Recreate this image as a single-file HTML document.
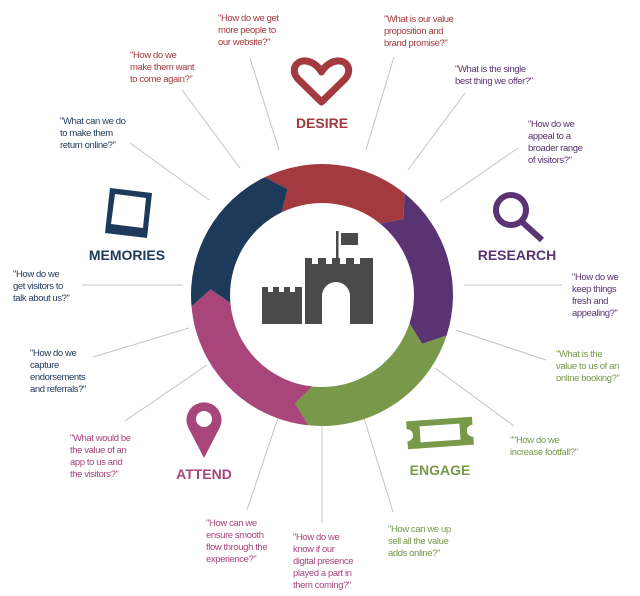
<!DOCTYPE html>
<html><head><meta charset="utf-8">
<style>
html,body{margin:0;padding:0;background:#fff;}
svg{display:block;}
text{font-family:"Liberation Sans",sans-serif;}
.q{font-size:9.5px;letter-spacing:-0.4px;}
.h{font-size:14px;font-weight:bold;}
</style></head>
<body>
<svg id="s" width="640" height="596" viewBox="0 0 640 596" xmlns="http://www.w3.org/2000/svg">
<g stroke="#c4c4c4" stroke-width="1">
<line x1="250" y1="58" x2="279" y2="150"/>
<line x1="182" y1="90" x2="240" y2="168"/>
<line x1="130" y1="143" x2="209" y2="200"/>
<line x1="82" y1="285" x2="183" y2="285"/>
<line x1="93" y1="357" x2="189" y2="328"/>
<line x1="125" y1="421" x2="207" y2="365"/>
<line x1="247" y1="510" x2="278" y2="418"/>
<line x1="322" y1="523" x2="322" y2="424"/>
<line x1="393" y1="512" x2="364" y2="418"/>
<line x1="514" y1="426" x2="435" y2="368"/>
<line x1="546" y1="360" x2="456" y2="330"/>
<line x1="562" y1="285" x2="464" y2="285"/>
<line x1="518" y1="148" x2="440" y2="202"/>
<line x1="465" y1="93" x2="408" y2="170"/>
<line x1="394" y1="57" x2="366" y2="150"/>
</g>
<g id="ring"></g>
<!-- castle -->
<g fill="#4a4a4a">
<path d="M262,324 V287 H268 V292 H273 V287 H279 V292 H284 V287 H290 V292 H295 V287 H302 V324 Z"/>
<path d="M305,324 V258 H312 V264 H318 V258 H326 V264 H332 V258 H340 V264 H346 V258 H354 V264 H360 V258 H373 V324 H350 V296 A14,14 0 0 0 322,296 V324 Z"/>
<rect x="336" y="231" width="2.5" height="28"/>
<rect x="341" y="233" width="17" height="12"/>
</g>
<!-- heart -->
<path d="M321.5,102 L298,79 C290,70 296,60 306,61 C313,62 318,66 321.5,72 C325,66 330,62 337,61 C347,60 353,70 345,79 Z" fill="none" stroke="#a33a3f" stroke-width="7" stroke-linejoin="round"/>
<text class="h" x="322" y="128" text-anchor="middle" fill="#a33a3f">DESIRE</text>
<!-- magnifier -->
<circle cx="511" cy="210" r="15" fill="none" stroke="#5a3472" stroke-width="6"/>
<line x1="521" y1="221" x2="542" y2="240" stroke="#5a3472" stroke-width="6"/>
<text class="h" x="517" y="260" text-anchor="middle" fill="#5a3472">RESEARCH</text>
<!-- ticket -->
<g transform="rotate(-4 440 433)" fill="#78994a">
<path fill-rule="evenodd" d="M407,419 H473 V427 A6,6 0 0 0 473,439 V447 H407 V439 A6,6 0 0 0 407,427 Z M420,425 V441 H460 V425 Z"/>
</g>
<text class="h" x="440" y="475" text-anchor="middle" fill="#78994a">ENGAGE</text>
<!-- pin -->
<path fill-rule="evenodd" d="M204,458 L188.5,428 A17.5,17.5 0 1 1 219.5,428 Z M196,419 a8,8 0 1 0 16,0 a8,8 0 1 0 -16,0 Z" fill="#a8457a"/>
<text class="h" x="204" y="479" text-anchor="middle" fill="#a8457a">ATTEND</text>
<!-- frame -->
<path fill-rule="evenodd" d="M110,188 L152,193 L147,238 L105,233 Z M115,194 L146,198 L143,228 L111,224 Z" fill="#1e3a5a"/>
<text class="h" x="127" y="260" text-anchor="middle" fill="#1e3a5a">MEMORIES</text>

<g class="q">
<text fill="#a33a3f"><tspan x="218" y="21">"How do we get</tspan><tspan x="218" y="33">more people to</tspan><tspan x="218" y="45">our website?"</tspan></text>
<text fill="#a33a3f"><tspan x="130" y="58">"How do we</tspan><tspan x="130" y="70">make them want</tspan><tspan x="130" y="82">to come again?"</tspan></text>
<text fill="#1e3a5a"><tspan x="60" y="124">"What can we do</tspan><tspan x="60" y="136">to make them</tspan><tspan x="60" y="148">return online?"</tspan></text>
<text fill="#1e3a5a"><tspan x="13" y="277">"How do we</tspan><tspan x="13" y="289">get visitors to</tspan><tspan x="13" y="301">talk about us?"</tspan></text>
<text fill="#1e3a5a"><tspan x="30" y="356">"How do we</tspan><tspan x="30" y="368">capture</tspan><tspan x="30" y="380">endorsements</tspan><tspan x="30" y="392">and referrals?"</tspan></text>
<text fill="#a8457a"><tspan x="70" y="441">"What would be</tspan><tspan x="70" y="453">the value of an</tspan><tspan x="70" y="465">app to us and</tspan><tspan x="70" y="477">the visitors?"</tspan></text>
<text fill="#a8457a"><tspan x="206" y="526">"How can we</tspan><tspan x="206" y="538">ensure smooth</tspan><tspan x="206" y="550">flow through the</tspan><tspan x="206" y="562">experience?"</tspan></text>
<text fill="#a8457a"><tspan x="293" y="540">"How do we</tspan><tspan x="293" y="552">know if our</tspan><tspan x="293" y="564">digital presence</tspan><tspan x="293" y="576">played a part in</tspan><tspan x="293" y="588">them coming?"</tspan></text>
<text fill="#78994a"><tspan x="388" y="532">"How can we up</tspan><tspan x="388" y="544">sell all the value</tspan><tspan x="388" y="556">adds online?"</tspan></text>
<text fill="#78994a"><tspan x="510" y="443">""How do we</tspan><tspan x="510" y="455">increase footfall?"</tspan></text>
<text fill="#78994a"><tspan x="556" y="357">"What is the</tspan><tspan x="556" y="369">value to us of an</tspan><tspan x="556" y="381">online booking?"</tspan></text>
<text fill="#5a3472"><tspan x="572" y="280">"How do we</tspan><tspan x="572" y="292">keep things</tspan><tspan x="572" y="304">fresh and</tspan><tspan x="572" y="316">appealing?"</tspan></text>
<text fill="#5a3472"><tspan x="528" y="127">"How do we</tspan><tspan x="528" y="139">appeal to a</tspan><tspan x="528" y="151">broader range</tspan><tspan x="528" y="163">of visitors?"</tspan></text>
<text fill="#5a3472"><tspan x="455" y="72">"What is the single</tspan><tspan x="455" y="84">best thing we offer?"</tspan></text>
<text fill="#a33a3f"><tspan x="384" y="22">"What is our value</tspan><tspan x="384" y="34">proposition and</tspan><tspan x="384" y="46">brand promise?"</tspan></text>
</g>
</svg>
<script>
(function(){
var cx=322,cy=295,Ro=131,Ri=92,Rm=111.5,d=8;
function p(r,a){a=a*Math.PI/180;return (cx+r*Math.sin(a)).toFixed(1)+','+(cy-r*Math.cos(a)).toFixed(1);}
var segs=[[334,399,'#a33a3f'],[39,108,'#5a3472'],[108,186,'#78994a'],[186,265,'#a8457a'],[265,334,'#1e3a5a']];
var g=document.getElementById('ring'),h='';
segs.forEach(function(s){
var a1=s[0],a2=s[1];
h+='<path fill="'+s[2]+'" d="M'+p(Ro,a1)+' A'+Ro+','+Ro+' 0 0 1 '+p(Ro,a2)+' L'+p(Rm,a2+d)+' L'+p(Ri,a2)+' A'+Ri+','+Ri+' 0 0 0 '+p(Ri,a1)+' L'+p(Rm,a1+d)+' Z"/>';
});
g.innerHTML=h;
})();
</script>
</body></html>
